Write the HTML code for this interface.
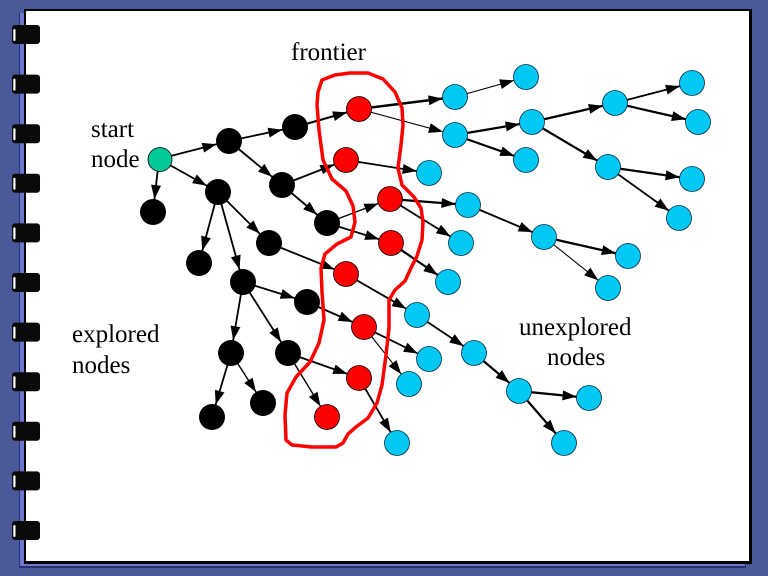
<!DOCTYPE html>
<html><head><meta charset="utf-8"><style>
html,body{margin:0;padding:0;background:#4b5899;}
svg{display:block;}
text{font-family:"Liberation Serif",serif;font-size:25px;fill:#000;}
</style></head><body>
<svg width="768" height="576" viewBox="0 0 768 576" xmlns="http://www.w3.org/2000/svg">
<defs>
<marker id="ac" markerUnits="userSpaceOnUse" markerWidth="16" markerHeight="11" refX="26.5" refY="5" orient="auto" overflow="visible"><path d="M0,0 L14,5 L0,10 z" fill="#000"/></marker>
<marker id="ab" markerUnits="userSpaceOnUse" markerWidth="16" markerHeight="11" refX="27" refY="5" orient="auto" overflow="visible"><path d="M0,0 L14,5 L0,10 z" fill="#000"/></marker>
</defs>
<rect width="768" height="576" fill="#4b5899"/>
<rect x="19" y="13" width="727" height="555" fill="#2a3070"/>
<rect x="20" y="13" width="725" height="553" fill="#6c78d0"/>
<rect x="24" y="9" width="728" height="555" fill="#000"/>
<rect x="26" y="11" width="723" height="550" fill="#fff"/>
<g fill="#0a0a0a">
<rect x="12" y="25" width="28" height="19" rx="3"/>
<rect x="12" y="74.6" width="28" height="19" rx="3"/>
<rect x="12" y="124.2" width="28" height="19" rx="3"/>
<rect x="12" y="173.8" width="28" height="19" rx="3"/>
<rect x="12" y="223.4" width="28" height="19" rx="3"/>
<rect x="12" y="273" width="28" height="19" rx="3"/>
<rect x="12" y="322.6" width="28" height="19" rx="3"/>
<rect x="12" y="372.2" width="28" height="19" rx="3"/>
<rect x="12" y="421.8" width="28" height="19" rx="3"/>
<rect x="12" y="471.4" width="28" height="19" rx="3"/>
<rect x="12" y="521" width="28" height="19" rx="3"/>
</g>
<g fill="#fff">
<rect x="13.3" y="29" width="2.2" height="12" rx="1"/>
<rect x="13.3" y="78.6" width="2.2" height="12" rx="1"/>
<rect x="13.3" y="128.2" width="2.2" height="12" rx="1"/>
<rect x="13.3" y="177.8" width="2.2" height="12" rx="1"/>
<rect x="13.3" y="227.4" width="2.2" height="12" rx="1"/>
<rect x="13.3" y="277" width="2.2" height="12" rx="1"/>
<rect x="13.3" y="326.6" width="2.2" height="12" rx="1"/>
<rect x="13.3" y="376.2" width="2.2" height="12" rx="1"/>
<rect x="13.3" y="425.8" width="2.2" height="12" rx="1"/>
<rect x="13.3" y="475.4" width="2.2" height="12" rx="1"/>
<rect x="13.3" y="525" width="2.2" height="12" rx="1"/>
</g>

<!-- edges to black nodes -->
<g stroke="#000" stroke-width="1.8" marker-end="url(#ab)">
<line x1="159" y1="159" x2="229" y2="141"/>
<line x1="159" y1="159" x2="218" y2="192"/>
<line x1="159" y1="159" x2="153" y2="212"/>
<line x1="229" y1="141" x2="295" y2="127"/>
<line x1="229" y1="141" x2="282" y2="185"/>
<line x1="218" y1="192" x2="199" y2="263"/>
<line x1="218" y1="192" x2="269" y2="243"/>
<line x1="218" y1="192" x2="243" y2="282"/>
<line x1="282" y1="185" x2="327" y2="223"/>
<line x1="243" y1="282" x2="307" y2="302"/>
<line x1="243" y1="282" x2="231" y2="353"/>
<line x1="243" y1="282" x2="288" y2="353"/>
<line x1="231" y1="353" x2="212" y2="417"/>
<line x1="231" y1="353" x2="263" y2="403" stroke-width="1.4"/>
</g>
<!-- edges to coloured nodes -->
<g stroke="#000" stroke-width="1.8" marker-end="url(#ac)">
<line x1="295" y1="127" x2="359" y2="109" stroke-width="2.2"/>
<line x1="282" y1="185" x2="346" y2="160"/>
<line x1="327" y1="223" x2="390" y2="199" stroke-width="1.4"/>
<line x1="327" y1="223" x2="391" y2="243"/>
<line x1="269" y1="243" x2="346" y2="274"/>
<line x1="307" y1="302" x2="364" y2="327"/>
<line x1="288" y1="353" x2="359" y2="378"/>
<line x1="288" y1="353" x2="327" y2="417" stroke-width="1.4"/>
<line x1="359" y1="109" x2="455" y2="97" stroke-width="2.4"/>
<line x1="359" y1="109" x2="455" y2="135" stroke-width="1.1"/>
<line x1="455" y1="97" x2="526" y2="77" stroke-width="1.1"/>
<line x1="455" y1="135" x2="532" y2="122" stroke-width="2.2"/>
<line x1="455" y1="135" x2="526" y2="160" stroke-width="2.2"/>
<line x1="532" y1="122" x2="615" y2="103" stroke-width="2.2"/>
<line x1="532" y1="122" x2="608" y2="167" stroke-width="2.2"/>
<line x1="615" y1="103" x2="692" y2="83"/>
<line x1="615" y1="103" x2="698" y2="122" stroke-width="2.2"/>
<line x1="608" y1="167" x2="692" y2="179" stroke-width="2.2"/>
<line x1="608" y1="167" x2="679" y2="218"/>
<line x1="346" y1="160" x2="429" y2="173"/>
<line x1="390" y1="199" x2="468" y2="205" stroke-width="2.2"/>
<line x1="390" y1="199" x2="461" y2="243"/>
<line x1="468" y1="205" x2="544" y2="237"/>
<line x1="544" y1="237" x2="628" y2="256" stroke-width="2.2"/>
<line x1="544" y1="237" x2="608" y2="288" stroke-width="1.1"/>
<line x1="391" y1="243" x2="448" y2="282" stroke-width="2.2"/>
<line x1="346" y1="274" x2="417" y2="315"/>
<line x1="417" y1="315" x2="474" y2="353"/>
<line x1="474" y1="353" x2="519" y2="391" stroke-width="2.2"/>
<line x1="519" y1="391" x2="589" y2="398" stroke-width="2.2"/>
<line x1="519" y1="391" x2="564" y2="443" stroke-width="2.2"/>
<line x1="364" y1="327" x2="429" y2="359"/>
<line x1="364" y1="327" x2="409" y2="384" stroke-width="1.1"/>
<line x1="359" y1="378" x2="397" y2="443"/>
</g>

<!-- black nodes -->
<g fill="#000">
<circle cx="229" cy="141" r="13"/>
<circle cx="295" cy="127" r="13"/>
<circle cx="218" cy="192" r="13"/>
<circle cx="153" cy="212" r="13"/>
<circle cx="282" cy="185" r="13"/>
<circle cx="327" cy="223" r="13"/>
<circle cx="269" cy="243" r="13"/>
<circle cx="199" cy="263" r="13"/>
<circle cx="243" cy="282" r="13"/>
<circle cx="307" cy="302" r="13"/>
<circle cx="231" cy="353" r="13"/>
<circle cx="288" cy="353" r="13"/>
<circle cx="212" cy="417" r="13"/>
<circle cx="263" cy="403" r="13"/>
</g>
<circle cx="160" cy="159.5" r="12" fill="#00c896" stroke="#000" stroke-width="0.8"/>
<!-- red nodes -->
<g fill="#ff0000" stroke="#000" stroke-width="0.8">
<circle cx="359" cy="109" r="12.5"/>
<circle cx="346" cy="160" r="12.5"/>
<circle cx="390" cy="199" r="12.5"/>
<circle cx="391" cy="243" r="12.5"/>
<circle cx="346" cy="274" r="12.5"/>
<circle cx="364" cy="327" r="12.5"/>
<circle cx="359" cy="378" r="12.5"/>
<circle cx="327" cy="417" r="12.5"/>
</g>
<!-- cyan nodes -->
<g fill="#00c8f5" stroke="#0a2a40" stroke-width="0.8">
<circle cx="455" cy="97" r="12.5"/>
<circle cx="526" cy="77" r="12.5"/>
<circle cx="455" cy="135" r="12.5"/>
<circle cx="532" cy="122" r="12.5"/>
<circle cx="526" cy="160" r="12.5"/>
<circle cx="615" cy="103" r="12.5"/>
<circle cx="692" cy="83" r="12.5"/>
<circle cx="698" cy="122" r="12.5"/>
<circle cx="608" cy="167" r="12.5"/>
<circle cx="692" cy="179" r="12.5"/>
<circle cx="679" cy="218" r="12.5"/>
<circle cx="429" cy="173" r="12.5"/>
<circle cx="468" cy="205" r="12.5"/>
<circle cx="461" cy="243" r="12.5"/>
<circle cx="544" cy="237" r="12.5"/>
<circle cx="628" cy="256" r="12.5"/>
<circle cx="608" cy="288" r="12.5"/>
<circle cx="448" cy="282" r="12.5"/>
<circle cx="417" cy="315" r="12.5"/>
<circle cx="429" cy="359" r="12.5"/>
<circle cx="474" cy="353" r="12.5"/>
<circle cx="409" cy="384" r="12.5"/>
<circle cx="519" cy="391" r="12.5"/>
<circle cx="589" cy="398" r="12.5"/>
<circle cx="564" cy="443" r="12.5"/>
<circle cx="397" cy="443" r="12.5"/>
</g>

<!-- frontier outline -->
<path d="M318,92 L322,80 L335,75 L350,73 L368,73 L383,79 L395,92 L402,108 L403,125 L401,145 L398,168 L402,185 L414,197 L421,208 L423,222 L422,240 L417,256 L411,268 L405,281 L395,290 L389,300 L389,328 L386,355 L382,385 L377,403 L368,418 L356,427 L348,434 L343,443 L336,447 L312,447 L292,445 L286,440 L285,415 L287,393 L296,377 L310,362 L319,343 L324,320 L322,292 L321,268 L325,254 L337,244 L351,237 L355,222 L353,206 L346,191 L332,179 L323,160 L319,130 L317,105 Z" fill="none" stroke="#ff0000" stroke-width="3.5" stroke-linejoin="round"/>

<text x="91" y="137">start</text>
<text x="91" y="167">node</text>
<text x="291" y="60">frontier</text>
<text x="72" y="342">explored</text>
<text x="72" y="373">nodes</text>
<text x="519" y="335">unexplored</text>
<text x="547" y="365">nodes</text>
</svg>
</body></html>
